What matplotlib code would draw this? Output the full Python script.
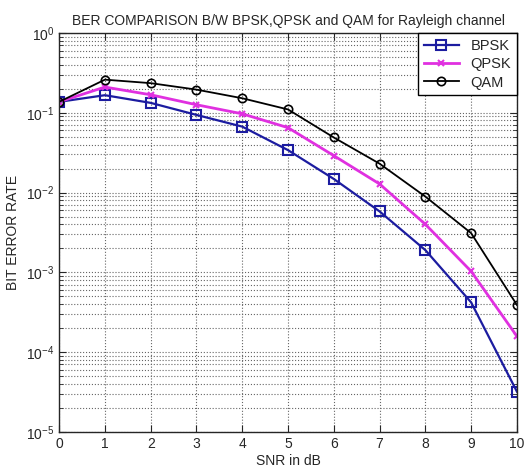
import numpy as np
import matplotlib
matplotlib.use('Agg')
import matplotlib.pyplot as plt

plt.rcParams['font.family'] = ['Liberation Sans', 'DejaVu Sans']
plt.rcParams['text.color'] = '#262626'
plt.rcParams['xtick.color'] = '#262626'
plt.rcParams['ytick.color'] = '#262626'
plt.rcParams['axes.labelcolor'] = '#262626'

# SNR values and BER readings taken from the reference chart
snr_db = [0, 1, 2, 3, 4, 5, 6, 7, 8, 9, 10]
ber_bpsk = [0.137, 0.166, 0.133, 0.094, 0.067, 0.034, 0.0148, 0.0058, 0.0019, 0.00042, 0.000032]
ber_qpsk = [0.137, 0.21, 0.168, 0.126, 0.097, 0.065, 0.029, 0.0128, 0.004, 0.00103, 0.000158]
ber_qam = [0.137, 0.26, 0.235, 0.195, 0.152, 0.11, 0.049, 0.023, 0.0089, 0.0031, 0.00039]

fig = plt.figure(figsize=(5.28, 4.71), dpi=100)
ax = fig.add_axes([0.112, 0.083, 0.867, 0.847])

ax.semilogy(snr_db, ber_bpsk, '-s', color='#1c1ca0', lw=1.6, ms=6.5,
            mfc='none', mew=1.5, label='BPSK')
ax.semilogy(snr_db, ber_qpsk, '-x', color='#e030e0', lw=2.0, ms=4.5,
            mew=1.5, label='QPSK')
ax.semilogy(snr_db, ber_qam, '-o', color='black', lw=1.3, ms=6,
            mfc='none', mew=1.2, label='QAM')

ax.set_xlim(0, 10)
ax.set_ylim(1e-5, 1)
ax.set_xticks(range(0, 11))
ax.grid(True, which='major', linestyle=':', color='#666666', lw=0.8)
ax.grid(True, which='minor', axis='y', linestyle=':', color='#666666', lw=0.8)
ax.tick_params(which='both', direction='in', top=True, right=True, labelsize=10)
ax.tick_params(which='major', length=5)
ax.tick_params(which='minor', length=3)
for s in ax.spines.values():
    s.set_linewidth(1.0)
    s.set_color('#262626')

ax.set_title('BER COMPARISON B/W BPSK,QPSK and QAM for Rayleigh channel', fontsize=10)
ax.set_xlabel('SNR in dB', fontsize=10, labelpad=2)
ax.set_ylabel('BIT ERROR RATE', fontsize=10)

leg = ax.legend(loc='upper right', fontsize=10.5, fancybox=False, framealpha=1,
                edgecolor='black', borderaxespad=0, handlelength=2.4,
                borderpad=0.4, labelspacing=0.3)
leg.get_frame().set_linewidth(1.0)

fig.savefig('out.png', dpi=100)
